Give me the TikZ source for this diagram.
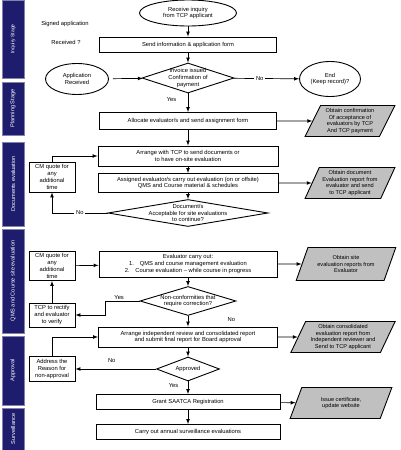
\documentclass[tikz,border=0pt]{standalone}
\usepackage{fontspec}
\setmainfont{Liberation Sans}
\usepackage{tikz}
\usetikzlibrary{shapes.geometric}
\usetikzlibrary{arrows}
\definecolor{stageblue}{RGB}{30,28,108}
\definecolor{iogray}{RGB}{192,192,192}

\begin{document}
\begin{tikzpicture}[x=1pt,y=-1pt,
  every node/.style={font=\fontsize{5.8}{6.8}\selectfont},
  stagebar/.style={rectangle, fill=stageblue, draw=stageblue!55!white, line width=0.8pt,
    text=white, rotate=90, minimum height=22pt, inner sep=0pt, font=\fontsize{5.6}{6.6}\selectfont},
  stepbox/.style={rectangle, draw, line width=0.9pt, align=center, inner sep=1pt},
  sidebox/.style={stepbox, minimum width=46pt},
  ovalbox/.style={ellipse, draw, line width=0.9pt, align=center, inner sep=0pt},
  decision/.style={diamond, draw, line width=0.9pt, inner sep=0pt},
  dtext/.style={align=center, inner sep=0pt},
  iobox/.style={trapezium, trapezium left angle=63, trapezium right angle=117,
    trapezium stretches=true, draw, line width=0.9pt, fill=iogray, align=center,
    inner sep=0pt, font=\fontsize{5.6}{6.6}\selectfont},
  flow/.style={-latex, line width=0.7pt},
  every label/.style={dtext}]
\useasboundingbox (0,0) rectangle (400,450);
% Stage bars
\node[stagebar, minimum width=78pt, font=\fontsize{5}{6}\selectfont] (sInq) at (13,39) {Inquiry Stage};
\node[stagebar, minimum width=53pt] (sPlan) at (13,108.5) {Planning Stage};
\node[stagebar, minimum width=84pt] (sDoc) at (13,184) {Documents evaluation};
\node[stagebar, minimum width=104pt] (sSite) at (13,281) {QMS and Course site evaluation};
\node[stagebar, minimum width=69pt] (sAppr) at (13,370.5) {Approval};
\node[stagebar, minimum width=42pt] (sSurv) at (13,429) {Surveillance};
% Inquiry
\node[ovalbox, minimum width=97pt, minimum height=26pt] (inq) at (188,13) {Receive inquiry\\from TCP applicant};
\node (signed) at (65,24) {Signed application};
\node (recvd) at (66,42) {Received ?};
\node[stepbox, minimum width=177pt, minimum height=15pt] (send) at (188,44.5) {Send information \& application form};
% Planning
\node[ovalbox, minimum width=63pt, minimum height=31pt] (appl) at (77,79) {Application\\Received};
\node[decision, minimum width=92pt, minimum height=30pt,
  label={center:Invoice issued\\Confirmation of\\payment}] (pay) at (188,78) {};
\node[ovalbox, minimum width=61pt, minimum height=35pt] (endrec) at (330,79) {End\\(Keep record)?};
\node[stepbox, minimum width=177pt, minimum height=17pt] (alloc) at (188,121) {Allocate evaluator/s and send assignment form};
\node[iobox, minimum width=90pt, minimum height=31pt] (conf) at (350,121)
  {Obtain confirmation\\Of acceptance of\\evaluators by TCP\\And TCP payment};
% Documents evaluation
\node[stepbox, minimum width=180pt, minimum height=20pt] (arrange) at (188,156)
  {Arrange with TCP to send documents or\\to have on-site evaluation};
\node[stepbox, minimum width=180pt, minimum height=19pt] (assign) at (188,183)
  {Assigned evaluator/s carry out evaluation (on or offsite)\\QMS and Course material \& schedules};
\node[iobox, minimum width=90pt, minimum height=31pt] (docrep) at (350,183)
  {Obtain document\\Evaluation report from\\evaluator and send\\to TCP applicant};
\node[decision, minimum width=160pt, minimum height=27pt,
  label={center:Document/s\\Acceptable for site evaluations\\to continue?}] (docok) at (188,213) {};
\node[sidebox, minimum height=30pt] (cmA) at (52,177) {CM quote for\\any\\additional\\time};
% Site evaluation
\node[stepbox, minimum width=178pt, minimum height=26pt] (evalr) at (188,264)
  {Evaluator carry out:\\1.\quad QMS and course management evaluation\\2.\quad Course evaluation -- while course in progress};
\node[iobox, minimum width=100pt, minimum height=33pt] (siterep) at (346,264)
  {Obtain site\\evaluation reports from\\Evaluator};
\node[sidebox, minimum height=29pt] (cmB) at (52,266) {CM quote for\\any\\additional\\time};
\node[decision, minimum width=96pt, minimum height=29pt,
  label={center:Non-conformities that\\require correction?}] (ncr) at (188,301) {};
\node[sidebox, minimum height=24pt] (rectify) at (52,315) {TCP to rectify\\and evaluator\\to verify};
% Approval
\node[stepbox, minimum width=179pt, minimum height=20pt] (indep) at (188,337)
  {Arrange independent review and consolidated report\\and submit final report for Board approval};
\node[iobox, minimum width=105pt, minimum height=31pt] (consrep) at (343,337)
  {Obtain consolidated\\evaluation report from\\Independent reviewer and\\Send to TCP applicant};
\node[decision, minimum width=63pt, minimum height=24pt, label={center:Approved}] (appr) at (188,369) {};
\node[sidebox, minimum height=25pt] (reason) at (52,369) {Address the\\Reason for\\non-approval};
\node[stepbox, minimum width=184pt, minimum height=15pt] (grant) at (188,402) {Grant SAATCA Registration};
\node[iobox, minimum width=102pt, minimum height=31pt] (issue) at (341,403) {Issue certificate,\\update website};
% Surveillance
\node[stepbox, minimum width=184pt, minimum height=15pt] (surv) at (188,432) {Carry out annual surveillance evaluations};
% Main flow
\draw[flow] (inq) -- (send);
\draw[flow] (send) -- (pay);
\draw[flow] (pay) -- node[pos=0.35, left=8pt]{Yes} (alloc);
\draw[flow] (alloc) -- (arrange);
\draw[flow] (arrange) -- (assign);
\draw[flow] (assign) -- (docok);
\draw[flow] (evalr) -- (ncr);
\draw[flow] (ncr) -- node[pos=0.35, right=36pt]{No} (indep);
\draw[flow] (indep) -- (appr);
\draw[flow] (appr) -- node[pos=0.3, left=6pt]{Yes} (grant);
\draw[flow] (grant) -- (surv);
% Side flows
\draw[flow, shorten <=4pt] (appl) -- (pay);
\draw[flow] (pay) -- node[pos=0.4, fill=white, inner sep=2pt]{No} (endrec);
\draw[flow] (alloc) -- (conf);
\draw[flow] (assign) -- (docrep);
\draw[flow] (evalr) -- (siterep);
\draw[flow] (indep) -- (consrep);
\draw[flow] (grant) -- (issue);
% Loops back
\draw[flow] (docok.west) -| node[pos=0.25, fill=white, inner sep=2pt]{No} (cmA.south);
\draw[flow] (cmA.north) |- (arrange.west);
\draw[flow] (cmB) -- (evalr);
\draw[flow] (ncr.west) -- node[above, inner sep=1pt, pos=0.6]{Yes} ++(-34,0) |- (rectify.east);
\draw[flow] (rectify) -- (cmB);
\draw[flow] (appr) -- node[pos=0.55, above=3pt]{No} (reason);
\draw[flow] (reason.north) |- (indep.west);
\end{tikzpicture}
\end{document}
